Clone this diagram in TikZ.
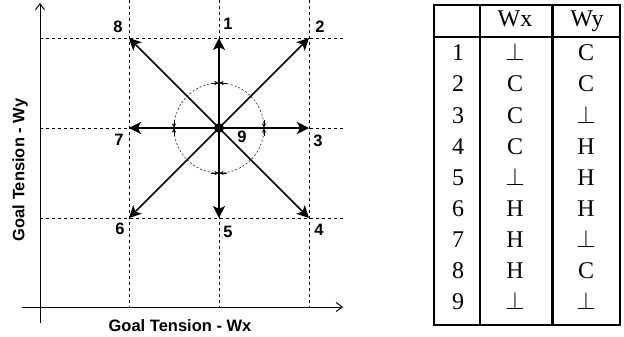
\documentclass[tikz,border=0pt]{standalone}
\usepackage{fontspec}
\setmainfont{Liberation Serif}
\newfontfamily\lsans{Liberation Sans}
\usetikzlibrary{arrows.meta}
\begin{document}
\begin{tikzpicture}[x=1pt,y=-1pt,
  gridline/.style={dash pattern=on 3pt off 3pt, line width=0.7pt},
  axis/.style={line width=1pt, -{Straight Barb[length=6pt,width=9pt]}},
  vec/.style={line width=1.5pt, -{Stealth[length=12pt,width=12pt,inset=3pt]}},
  lab/.style={font=\lsans\bfseries\fontsize{16.5}{18}\selectfont, inner sep=0pt},
  tk/.style={line width=0.4pt, -{Stealth[length=4pt,width=4pt]}},
  tb/.style={font=\fontsize{24}{26}\selectfont, inner sep=0pt, anchor=base},
  tline/.style={line width=2pt}
]
\useasboundingbox (0,0) rectangle (624,337);
% grid coordinates
\coordinate (p1) at (219,38);
\coordinate (p2) at (309,38);
\coordinate (p3) at (309,128);
\coordinate (p4) at (309,218);
\coordinate (p5) at (219,218);
\coordinate (p6) at (129,218);
\coordinate (p7) at (129,128);
\coordinate (p8) at (129,38);
\coordinate (yend) at (40,3);
\coordinate (ystart) at (40,323);
\coordinate (xstart) at (22,307);
\coordinate (xend) at (343,307);
% dashed grid
\foreach \x in {129,219,309} \draw[gridline] (\x,0) -- (\x,307);
\foreach \y in {38,128,218} \draw[gridline] (40,\y) -- (345,\y);
% axes
\draw[axis] (ystart) -- (yend);
\draw[axis] (xstart) -- (xend);
% circle
\node[circle, fill, inner sep=0pt, minimum size=10pt] (c) at (219,128) {};
\draw[dash pattern=on 2pt off 2pt, line width=0.5pt] (c.center) circle (45);
% tick markers
\draw[tk] (211,83) -- (218.5,83);
\draw[tk] (227,83) -- (219.5,83);
\draw[tk] (211,173) -- (218.5,173);
\draw[tk] (227,173) -- (219.5,173);
\draw[tk] (174,120) -- (174,127.5);
\draw[tk] (174,136) -- (174,128.5);
\draw[tk] (264,120) -- (264,127.5);
\draw[tk] (264,136) -- (264,128.5);
% vectors
\foreach \i in {1,...,8} \draw[vec] (c.center) -- (p\i);
% labels
\node[lab] (l1) at (228,24) {1};
\node[lab] (l2) at (320,27) {2};
\node[lab] (l3) at (318,141) {3};
\node[lab] (l4) at (319,230) {4};
\node[lab] (l5) at (228,232) {5};
\node[lab] (l6) at (120,229) {6};
\node[lab] (l7) at (119,140) {7};
\node[lab] (l8) at (118,27) {8};
\node[lab] (l9) at (242,137) {9};
\node[lab] (xl) at (180,325.5) {Goal Tension - Wx};
\node[lab, rotate=90] (yl) at (20,170) {Goal Tension - Wy};
% table
\draw[tline] (434,5) rectangle (620,325);
\draw[tline] (434,37) -- (620,37);
\draw[tline] (480,5) -- (480,325);
\draw[line width=3pt] (552,5) -- (552,325);
\node[tb] (hx) at (515,27) {Wx};
\node[tb] (hy) at (587,27) {Wy};
\foreach \n/\a/\b [count=\r] in {1/$\perp$/C, 2/C/C, 3/C/$\perp$, 4/C/H, 5/$\perp$/H, 6/H/H, 7/H/$\perp$, 8/H/C, 9/$\perp$/$\perp$} {
  \pgfmathsetmacro{\yy}{61+(\r-1)*31}
  \node[tb] (n\r) at (458,\yy) {\n};
  \node[tb] (a\r) at (515,\yy) {\a};
  \node[tb] (b\r) at (586,\yy) {\b};
}
\end{tikzpicture}
\end{document}
